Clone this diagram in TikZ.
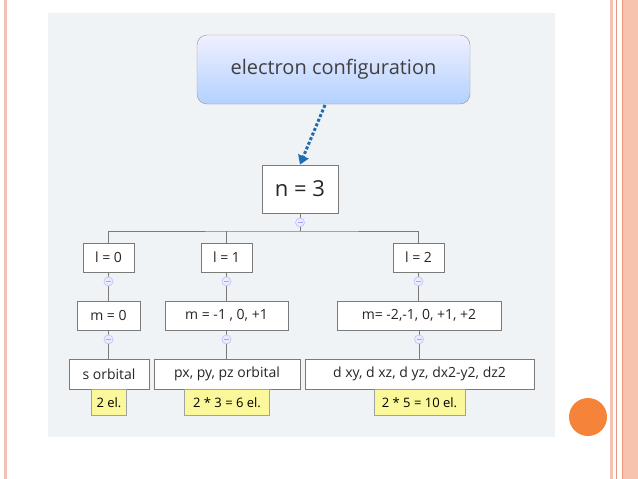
\documentclass[tikz,border=0pt]{standalone}
\usepackage{fontspec}
\setmainfont{Open Sans}
\usetikzlibrary{arrows.meta}
\definecolor{panel}{HTML}{EFF3F6}
\definecolor{pinkln}{HTML}{F3C2B2}
\definecolor{pinkfill}{HTML}{F8C3AE}
\definecolor{pinkdark}{HTML}{E8957A}
\definecolor{orng}{HTML}{F5843A}
\definecolor{boxln}{HTML}{7A7A7A}
\definecolor{ylw}{HTML}{FAF89A}
\definecolor{arrowblue}{HTML}{1F6DB5}
\tikzset{
  px/.style={x=1pt,y=-1pt},
  tbox/.style={draw=boxln,fill=white,line width=0.8pt,font=\fontsize{14}{16}\selectfont,text=black!85,inner sep=0pt},
  ybox/.style={draw=boxln!70,fill=ylw,line width=0.6pt,font=\fontsize{13}{15}\selectfont,inner sep=0pt},
  conn/.style={draw=boxln,line width=0.8pt},
  coll/.style={circle,draw=blue!25,fill=blue!8,line width=0.6pt,minimum size=9pt,inner sep=0pt},
}
\begin{document}
\begin{tikzpicture}[px]
\useasboundingbox (0,0) rectangle (638,479);
\fill[white] (0,0) rectangle (638,479);
% borders
\fill[pinkln] (4,0) rectangle (7,479);
\fill[pinkln] (610,0) rectangle (613,479);
\fill[pinkfill] (622,0) rectangle (638,479);
\draw[pinkdark,line width=0.8pt] (616.5,0) -- (616.5,479);
\draw[pinkdark,line width=0.8pt] (622.5,0) -- (622.5,479);
\fill[panel] (48,13) rectangle (555,437);
\fill[orng] (588,417) circle (19);
% top node
\node[draw=boxln!80,rounded corners=10pt,minimum width=273pt,minimum height=69pt,
  top color=blue!6,bottom color=cyan!40!blue!30,font=\fontsize{20}{23}\selectfont,text=black!75]
  (ec) at (333.5,69.5) {electron configuration};
\node[tbox,minimum width=76pt,minimum height=48pt,font=\fontsize{22}{25}\selectfont] (n) at (300,189) {n = 3};
\draw[arrowblue,line width=3pt,dotted,-{Triangle[length=9pt,width=11pt]}] (325,105) -- (n.north);
% level l
\node[tbox,minimum width=51pt,minimum height=29pt] (l0) at (108.5,257.5) {l = 0};
\node[tbox,minimum width=51pt,minimum height=29pt] (l1) at (226.5,257.5) {l = 1};
\node[tbox,minimum width=51pt,minimum height=29pt] (l2) at (418.5,257.5) {l = 2};
% level m
\node[tbox,minimum width=63pt,minimum height=29pt] (m0) at (108.5,315.5) {m = 0};
\node[tbox,minimum width=123pt,minimum height=29pt] (m1) at (226.5,315.5) {m = -1 , 0, +1};
\node[tbox,minimum width=164pt,minimum height=29pt] (m2) at (419,315.5) {m= -2,-1, 0, +1, +2};
% orbitals
\node[tbox,minimum width=80pt,minimum height=30pt] (o0) at (109,374) {s orbital};
\node[tbox,minimum width=146pt,minimum height=30pt] (o1) at (227,374) {px, py, pz orbital};
\node[tbox,minimum width=229pt,minimum height=30pt] (o2) at (419.5,374) {d xy, d xz, d yz, dx2-y2, dz2};
% yellow
\node[ybox,minimum width=35pt,minimum height=26pt,anchor=north] (e0) at (o0.south) {2 el.};
\node[ybox,minimum width=85pt,minimum height=26pt,anchor=north] (e1) at (o1.south) {2 * 3 = 6 el.};
\node[ybox,minimum width=91pt,minimum height=26pt,anchor=north] (e2) at (o2.south) {2 * 5 = 10 el.};
% connectors
\coordinate (bus) at (300,231);
\draw[conn] (n.south) -- (bus);
\draw[conn] (l0.north) |- (bus) -| (l2.north);
\draw[conn] (l1.north) -- (l1.north |- bus);
\foreach \a/\b in {l0/m0,l1/m1,l2/m2,m0/o0,m1/o1,m2/o2}{
  \draw[conn] (\a.south) -- (\a.south |- \b.north);
}
% collapse markers
\foreach \a in {n,l0,l1,l2,m0,m1,m2}{
  \node[coll] at ([yshift=-9pt]\a.south) {\tikz[x=1pt,y=1pt]\draw[blue!35,line width=0.6pt](-2.5,0)--(2.5,0);};
}
\end{tikzpicture}
\end{document}
